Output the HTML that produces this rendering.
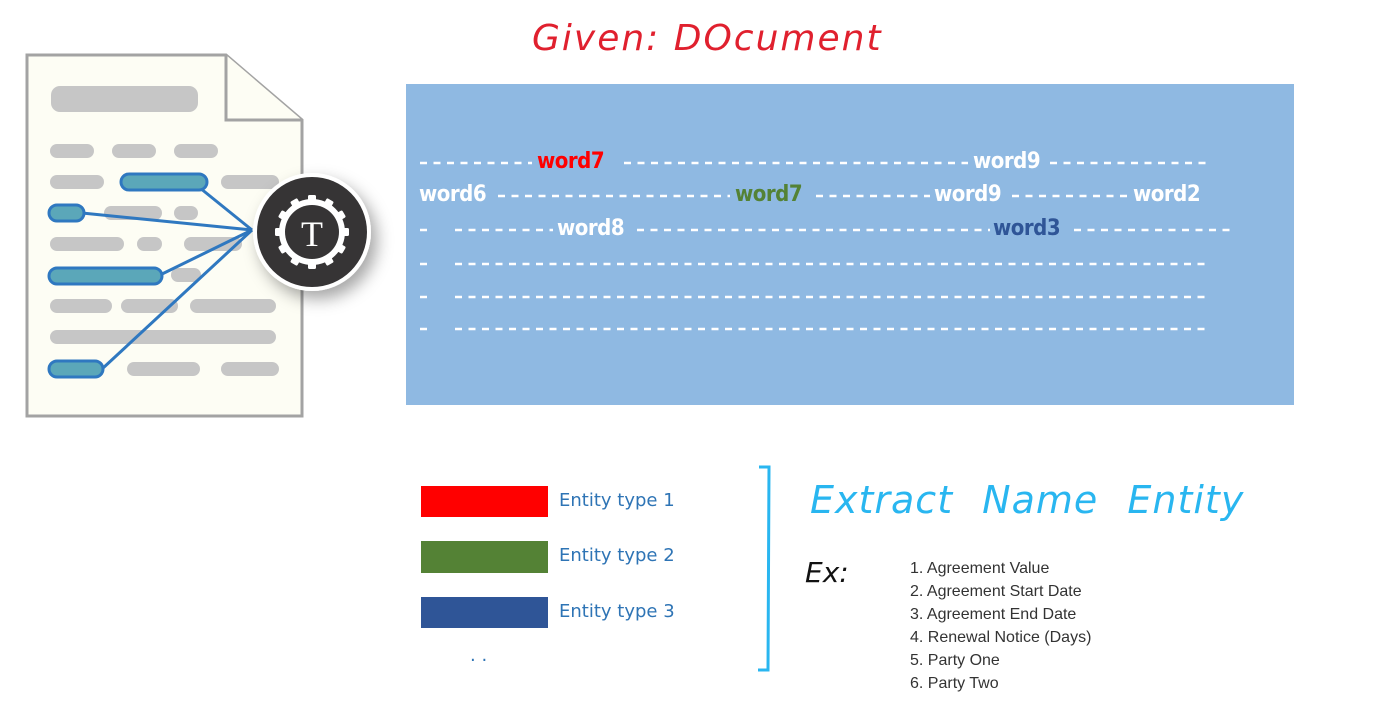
<!DOCTYPE html>
<html><head><meta charset="utf-8"><style>
body{margin:0;width:1378px;height:727px;background:#fff;position:relative;overflow:hidden;font-family:"Liberation Sans",sans-serif}
.a{position:absolute;white-space:nowrap}
.w{position:absolute;font-weight:bold;font-size:22px;color:#fff;font-family:"DejaVu Sans Condensed","Liberation Sans",sans-serif;letter-spacing:-0.5px;line-height:1}
.et{position:absolute;left:559px;font-size:18px;color:#2e74b5;font-family:"DejaVu Sans","Liberation Sans",sans-serif}
.li{position:absolute;left:910px;font-size:16px;color:#333}
</style></head><body>
<svg width="1378" height="727" style="position:absolute;left:0;top:0">
<defs><filter id="sh" x="-50%" y="-50%" width="200%" height="200%"><feDropShadow dx="6" dy="8" stdDeviation="8" flood-opacity="0.35"/></filter></defs>
<path d="M27,55 L226,55 L302,120 L302,416 L27,416 Z" fill="#fdfdf4" stroke="#a3a3a3" stroke-width="3"/>
<path d="M226,55 L226,120 L302,120" fill="#fdfdf4" stroke="#a3a3a3" stroke-width="3"/>
<g fill="#c6c6c6">
<rect x="51" y="86" width="147" height="26" rx="9"/>
<rect x="50" y="144" width="44" height="14" rx="7"/><rect x="112" y="144" width="44" height="14" rx="7"/><rect x="174" y="144" width="44" height="14" rx="7"/>
<rect x="50" y="175" width="54" height="14" rx="7"/><rect x="221" y="175" width="58" height="14" rx="7"/>
<rect x="104" y="206" width="58" height="14" rx="7"/><rect x="174" y="206" width="24" height="14" rx="7"/>
<rect x="50" y="237" width="74" height="14" rx="7"/><rect x="137" y="237" width="25" height="14" rx="7"/><rect x="184" y="237" width="58" height="14" rx="7"/>
<rect x="171" y="268" width="30" height="14" rx="7"/>
<rect x="50" y="299" width="62" height="14" rx="7"/><rect x="121" y="299" width="57" height="14" rx="7"/><rect x="190" y="299" width="86" height="14" rx="7"/>
<rect x="50" y="330" width="226" height="14" rx="7"/>
<rect x="127" y="362" width="73" height="14" rx="7"/><rect x="221" y="362" width="58" height="14" rx="7"/>
</g>
<g stroke="#2f78c0" stroke-width="3" fill="none">
<line x1="200" y1="188" x2="252" y2="230"/><line x1="82" y1="213" x2="252" y2="230"/>
<line x1="160" y1="275" x2="252" y2="230"/><line x1="102" y1="369" x2="252" y2="230"/>
</g>
<g fill="#5ba7b9" stroke="#2f78c0" stroke-width="3">
<rect x="121" y="174" width="86" height="16" rx="8"/><rect x="49" y="205" width="35" height="16" rx="8"/>
<rect x="49" y="268" width="113" height="16" rx="8"/><rect x="49" y="361" width="54" height="16" rx="8"/>
</g>
<circle cx="312" cy="232" r="59" fill="#fff" filter="url(#sh)"/>
<circle cx="312" cy="232" r="55" fill="#363435"/>
<circle cx="312" cy="232" r="33" fill="#fff"/>
<g fill="#fff"><g id="t">
<rect x="308" y="195" width="8" height="8" rx="1.5"/></g>
<use href="#t" transform="rotate(30 312 232)"/><use href="#t" transform="rotate(60 312 232)"/><use href="#t" transform="rotate(90 312 232)"/><use href="#t" transform="rotate(120 312 232)"/><use href="#t" transform="rotate(150 312 232)"/><use href="#t" transform="rotate(180 312 232)"/><use href="#t" transform="rotate(210 312 232)"/><use href="#t" transform="rotate(240 312 232)"/><use href="#t" transform="rotate(270 312 232)"/><use href="#t" transform="rotate(300 312 232)"/><use href="#t" transform="rotate(330 312 232)"/></g>
<circle cx="312" cy="232" r="27" fill="#363435"/>
<text x="312" y="246" text-anchor="middle" font-family="Liberation Serif,serif" font-size="36" fill="#fff">T</text>
<rect x="406" y="84" width="888" height="321" fill="#8fb9e2"/>
<g stroke="#fff" stroke-width="2.5" stroke-dasharray="7 6.5">
<line x1="420" y1="163" x2="532" y2="163"/><line x1="624" y1="163" x2="968" y2="163"/><line x1="1050" y1="163" x2="1212" y2="163"/>
<line x1="498" y1="196" x2="730" y2="196"/><line x1="816" y1="196" x2="930" y2="196"/><line x1="1012" y1="196" x2="1128" y2="196"/>
<line x1="455" y1="230" x2="553" y2="230"/><line x1="637" y1="230" x2="990" y2="230"/><line x1="1074" y1="230" x2="1230" y2="230"/>
<line x1="455" y1="264" x2="1208" y2="264"/><line x1="455" y1="297" x2="1208" y2="297"/><line x1="455" y1="329" x2="1208" y2="329"/>
<line x1="420" y1="230" x2="428" y2="230"/><line x1="420" y1="264" x2="428" y2="264"/><line x1="420" y1="297" x2="428" y2="297"/><line x1="420" y1="329" x2="428" y2="329"/>
</g>
<rect x="421" y="486" width="127" height="31" fill="#ff0000"/>
<rect x="421" y="541" width="127" height="32" fill="#548235"/>
<rect x="421" y="597" width="127" height="31" fill="#2f5597"/>
<g stroke="#29b6f0" stroke-width="3" fill="none">
<path d="M759,467 L769,467 L768,670 L758,670"/>
</g>
</svg>
<div class="a" style="left:532px;top:18px;font-size:36px;color:#e0202e;font-family:'DejaVu Sans',sans-serif;font-weight:200;font-style:italic;letter-spacing:2px">Given: DOcument</div>
<div class="w" style="left:537px;top:151px;color:#ff0000">word7</div>
<div class="w" style="left:973px;top:151px">word9</div>
<div class="w" style="left:419px;top:184px">word6</div>
<div class="w" style="left:735px;top:184px;color:#548235">word7</div>
<div class="w" style="left:934px;top:184px">word9</div>
<div class="w" style="left:1133px;top:184px">word2</div>
<div class="w" style="left:557px;top:218px">word8</div>
<div class="w" style="left:993px;top:218px;color:#2f5597">word3</div>
<div class="et" style="top:490px">Entity type 1</div>
<div class="et" style="top:545px">Entity type 2</div>
<div class="et" style="top:601px">Entity type 3</div>
<div class="et" style="left:470px;top:645px">. .</div>
<div class="a" style="left:810px;top:478px;font-size:38px;color:#29b6f0;font-family:'DejaVu Sans',sans-serif;font-style:italic;font-weight:200;letter-spacing:1px;word-spacing:16px">Extract Name Entity</div>
<div class="a" style="left:805px;top:556px;font-size:28px;color:#111;font-family:'DejaVu Sans',sans-serif;font-style:italic">Ex:</div>
<div class="li" style="top:560px">1. Agreement Value</div>
<div class="li" style="top:583px">2. Agreement Start Date</div>
<div class="li" style="top:606px">3. Agreement End Date</div>
<div class="li" style="top:629px">4. Renewal Notice (Days)</div>
<div class="li" style="top:652px">5. Party One</div>
<div class="li" style="top:675px">6. Party Two</div>
</body></html>
